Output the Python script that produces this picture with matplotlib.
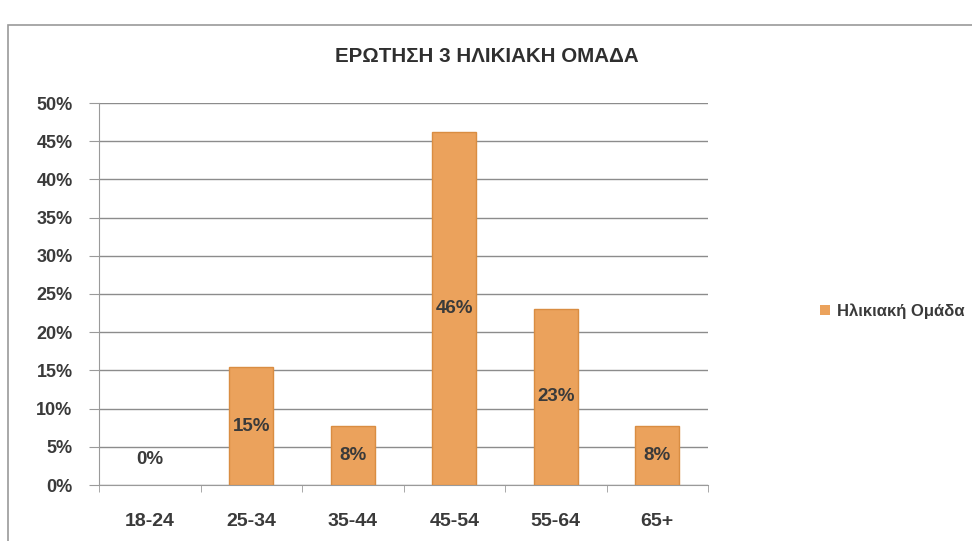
import matplotlib
matplotlib.use("Agg")
import matplotlib.pyplot as plt
from matplotlib.patches import Rectangle
from matplotlib.ticker import FixedLocator, PercentFormatter

# Data (13 respondents)
categories = ["18-24", "25-34", "35-44", "45-54", "55-64", "65+"]
shares = [0.0, 0.154, 0.077, 0.462, 0.231, 0.077]
value_labels = ["0%", "15%", "8%", "46%", "23%", "8%"]
series_name = "Ηλικιακή Ομάδα"
title = "ΕΡΩΤΗΣΗ 3 ΗΛΙΚΙΑΚΗ ΟΜΑΔΑ"

plt.rcParams["font.family"] = ["Liberation Sans", "DejaVu Sans"]
text_col = "#3a3a3a"
bar_col = "#eba25c"
edge_col = "#d98d42"

fig = plt.figure(figsize=(9.72, 5.41), dpi=100)
fig.patch.set_facecolor("white")
# outer chart frame
fig.patches.append(Rectangle((8 / 972, -0.01), 1.1, 1 - 25 / 541 + 0.01,
                             transform=fig.transFigure, fill=False,
                             edgecolor="#9a9a9a", linewidth=1.2))

ax = fig.add_axes([99 / 972, 56 / 541, 609 / 972, 382 / 541])
x = range(len(categories))
bars = ax.bar(x, shares, width=0.43, color=bar_col,
              edgecolor=[edge_col if v > 0 else "none" for v in shares],
              linewidth=1.0, label=series_name, zorder=3)

for rect, lab, v in zip(bars, value_labels, shares):
    y = max(v / 2, 0.034)
    ax.text(rect.get_x() + rect.get_width() / 2, y, lab, ha="center",
            va="center", fontsize=13.5, fontweight="bold", color=text_col,
            zorder=4)

ax.set_ylim(0, 0.5)
ax.set_xlim(-0.5, len(categories) - 0.5)
ax.yaxis.set_major_locator(FixedLocator([i * 0.05 for i in range(11)]))
ax.yaxis.set_major_formatter(PercentFormatter(1.0, decimals=0))
ax.yaxis.grid(True, color="#8c8c8c", linewidth=1.0, zorder=0)
ax.set_axisbelow(True)

ax.set_xticks(list(x))
ax.set_xticklabels(categories)
ax.set_xticks([i - 0.5 for i in range(len(categories) + 1)], minor=True)
ax.tick_params(axis="x", which="major", length=0, pad=20, labelsize=14,
               labelcolor=text_col)
ax.tick_params(axis="x", which="minor", length=5, color="#9a9a9a")
ax.tick_params(axis="y", length=7, color="#9a9a9a", pad=12, labelsize=13,
               labelcolor=text_col)
for lab in ax.get_xticklabels() + ax.get_yticklabels():
    lab.set_fontweight("bold")

for side in ("top", "right"):
    ax.spines[side].set_visible(False)
ax.spines["left"].set_color("#9a9a9a")
ax.spines["bottom"].set_color("#9a9a9a")

fig.text(487 / 972, 1 - 57 / 541, title, ha="center", va="center",
         fontsize=14.8, fontweight="bold", color="#2f2f2f")

fig.legend(handles=[bars], labels=[series_name], loc="center left",
           bbox_to_anchor=(820 / 972, 1 - 311 / 541), frameon=False,
           handlelength=0.6, handleheight=0.6, handletextpad=0.4,
           borderaxespad=0, borderpad=0,
           prop={"size": 12, "weight": "bold"}, labelcolor=text_col)

fig.savefig("out.png", dpi=100)
